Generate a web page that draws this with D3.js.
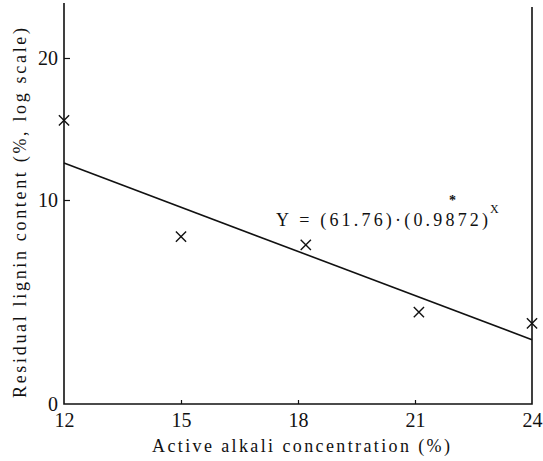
<!DOCTYPE html>
<html><head><meta charset="utf-8">
<script src="https://cdn.jsdelivr.net/npm/d3@7/dist/d3.min.js"></script>
<style>body{margin:0;background:#fff}svg{display:block}text{font-family:"Liberation Serif","DejaVu Serif",serif;fill:#111}</style>
</head><body>
<script>
// Data
const alkali = [12, 15.0, 18.2, 21.1, 24];          // Active alkali concentration (%)
const lignin = [15.6, 8.2, 7.8, 4.5, 3.95];          // Residual lignin content (%)
const fitX = [12, 24];
const fitY = [12.6, 3.15];
const xTicks = [12, 15, 18, 21, 24];
const yTicks = [0, 10, 20];
const equation = "Y = (61.76)\u00b7(0.9872)";

const W = 543, H = 461;
const svg = d3.select("body").append("svg").attr("width", W).attr("height", H);

const x = d3.scaleLinear().domain([12, 24]).range([64, 532]);
// the printed axis is a non-uniform ("log") scale: use a piecewise scale through its ticks
const y = d3.scaleLinear().domain([0, 10, 20, 23.9]).range([404, 200, 58, 3]);

const ink = "#111";
// axes lines
svg.append("path").attr("d", `M${x(12)},${y(23.9)}V${y(0)}H${x(24)}V${y(23.9) + 4}`)
  .attr("fill", "none").attr("stroke", ink).attr("stroke-width", 1.6);

// x ticks (inside, upward)
const xa = svg.append("g").attr("transform", `translate(0,${y(0)})`)
  .call(d3.axisBottom(x).tickValues(xTicks).tickSize(-4).tickPadding(9).tickFormat(d3.format("d")));
xa.select(".domain").remove();
xa.selectAll(".tick line").attr("stroke", ink).attr("stroke-width", 1.2)
  .filter(d => d === 12 || d === 24).remove();
xa.selectAll(".tick text").attr("font-size", 20).attr("font-family", "Liberation Serif").attr("fill", ink);

// y ticks (inside, rightward)
const ya = svg.append("g").attr("transform", `translate(${x(12)},0)`)
  .call(d3.axisLeft(y).tickValues(yTicks).tickSize(-6).tickPadding(6).tickFormat(d3.format("d")));
ya.select(".domain").remove();
ya.selectAll(".tick line").attr("stroke", ink).attr("stroke-width", 1.2)
  .filter(d => d === 0).remove();
ya.selectAll(".tick text").attr("font-size", 20).attr("font-family", "Liberation Serif").attr("fill", ink);

// regression line
svg.append("path")
  .datum(fitX.map((v, i) => [v, fitY[i]]))
  .attr("d", d3.line().x(d => x(d[0])).y(d => y(d[1])))
  .attr("fill", "none").attr("stroke", ink).attr("stroke-width", 1.6);

// markers
svg.append("g").selectAll("path").data(alkali.map((v, i) => [v, lignin[i]])).join("path")
  .attr("transform", d => `translate(${x(d[0])},${y(d[1])})`)
  .attr("d", d3.symbol(d3.symbolX, 70))
  .attr("fill", "none").attr("stroke", ink).attr("stroke-width", 1.4);

// equation
const eq = svg.append("text").attr("x", 276).attr("y", 226).attr("font-size", 18);
eq.append("tspan").text(equation).attr("textLength", 212);
svg.append("text").attr("x", 490).attr("y", 213).attr("font-size", 12).text("X");
svg.append("text").attr("x", 449).attr("y", 205).attr("font-size", 14).attr("font-weight", "bold").text("*");

// axis titles
svg.append("text").attr("x", 152).attr("y", 452).attr("font-size", 18)
  .attr("textLength", 298).attr("lengthAdjust", "spacing")
  .text("Active alkali concentration (%)");
svg.append("text").attr("transform", "translate(26,398) rotate(-90)").attr("font-size", 18)
  .attr("textLength", 370).attr("lengthAdjust", "spacing")
  .text("Residual lignin content (%, log scale)");
</script>
</body></html>
